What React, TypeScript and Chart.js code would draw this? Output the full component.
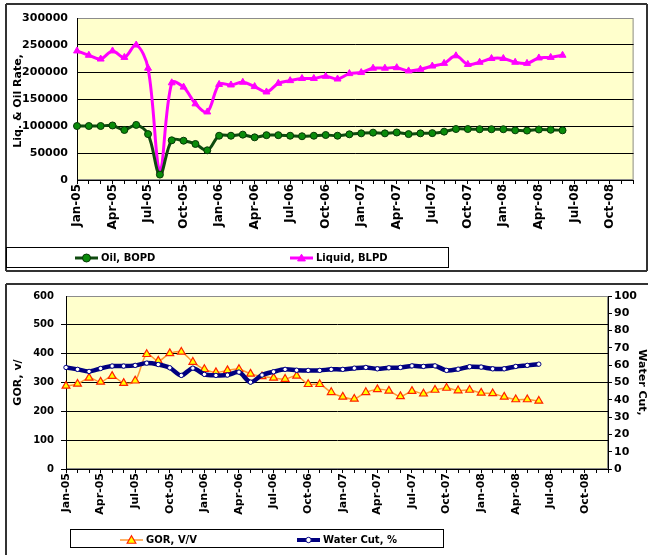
import React, { useEffect, useRef } from 'react';
import { Chart, registerables } from 'chart.js';

Chart.register(...registerables);

const FONT = '"DejaVu Sans", "Verdana", sans-serif';
Chart.defaults.font.family = FONT;
Chart.defaults.font.weight = 'bold';
Chart.defaults.color = '#000';

// ---------- DATA ----------
const months = [
  'Jan-05', 'Feb-05', 'Mar-05', 'Apr-05', 'May-05', 'Jun-05', 'Jul-05', 'Aug-05', 'Sep-05', 'Oct-05', 'Nov-05', 'Dec-05',
  'Jan-06', 'Feb-06', 'Mar-06', 'Apr-06', 'May-06', 'Jun-06', 'Jul-06', 'Aug-06', 'Sep-06', 'Oct-06', 'Nov-06', 'Dec-06',
  'Jan-07', 'Feb-07', 'Mar-07', 'Apr-07', 'May-07', 'Jun-07', 'Jul-07', 'Aug-07', 'Sep-07', 'Oct-07', 'Nov-07', 'Dec-07',
  'Jan-08', 'Feb-08', 'Mar-08', 'Apr-08', 'May-08', 'Jun-08', 'Jul-08', 'Aug-08', 'Sep-08', 'Oct-08', 'Nov-08', 'Dec-08',
];

const oilBOPD = [
  100000, 100000, 100000, 101000, 92600, 102000, 85000, 10000, 73500, 72800, 66700, 55000,
  82000, 82000, 84000, 79000, 83000, 83000, 82000, 81000, 82000, 83300, 82000, 84600,
  86400, 87700, 86400, 88000, 85000, 86400, 86800, 89500, 94400, 94400, 94000, 94000,
  94000, 92000, 91500, 93500, 93000, 92000,
];

const liquidBLPD = [
  239000, 231000, 224000, 239000, 227000, 250000, 207000, 17000, 180000, 172000, 141000, 126000,
  177000, 176000, 181000, 173000, 163000, 179000, 184000, 188000, 188000, 192000, 187000, 197000,
  199000, 207000, 207000, 208000, 202000, 205000, 211000, 216000, 230000, 214000, 218000, 225000,
  225000, 218000, 216000, 226000, 227000, 231000,
];

const gorVV = [
  288, 295, 316, 302, 322, 298, 306, 398, 375, 401, 406, 371,
  346, 335, 342, 346, 330, 321, 316, 312, 323, 294, 294, 266,
  250, 243, 266, 276, 271, 252, 270, 261, 274, 281, 272, 274,
  264, 262, 250, 241, 241, 236,
];

const waterCutPct = [
  58.7, 57.6, 56.4, 58.1, 59.5, 59.5, 59.9, 61.2, 60.4, 58.5, 54.1, 58.3,
  54.7, 54.1, 54.3, 56.0, 50.2, 54.3, 56.2, 57.6, 57.1, 57.0, 57.0, 57.6,
  57.6, 58.3, 58.7, 57.9, 58.5, 58.7, 59.6, 59.3, 59.6, 57.0, 57.7, 59.1,
  58.9, 57.9, 57.9, 59.3, 59.9, 60.6,
];

// ---------- PLUGIN: frame, plot background, boxed legend ----------
function drawMarker(ctx: CanvasRenderingContext2D, style: string, x: number, y: number, r: number) {
  ctx.beginPath();
  if (style === 'triangle') {
    for (let k = 0; k < 3; k++) {
      const ang = -Math.PI / 2 + (k * 2 * Math.PI) / 3;
      const px = x + r * Math.cos(ang);
      const py = y + r * Math.sin(ang) + r * 0.15;
      if (k === 0) ctx.moveTo(px, py);
      else ctx.lineTo(px, py);
    }
    ctx.closePath();
  } else {
    ctx.arc(x, y, r, 0, Math.PI * 2);
  }
  ctx.fill();
  ctx.stroke();
}

const framePlugin = {
  id: 'frame',
  beforeDraw(chart: any, _args: any, opts: any) {
    const { ctx, chartArea: a } = chart;
    ctx.save();
    ctx.fillStyle = '#ffffff';
    ctx.fillRect(0, 0, chart.width, chart.height);
    ctx.fillStyle = '#ffffcc';
    ctx.fillRect(a.left, a.top, a.right - a.left, a.bottom - a.top);
    ctx.strokeStyle = '#8c8c8c';
    ctx.lineWidth = 1;
    ctx.strokeRect(a.left + 0.5, a.top + 0.5, a.right - a.left - 1, a.bottom - a.top - 1);
    ctx.strokeStyle = '#333';
    ctx.lineWidth = 2;
    (opts.lines || []).forEach((l: number[]) => {
      ctx.beginPath();
      ctx.moveTo(l[0], l[1]);
      ctx.lineTo(l[2], l[3]);
      ctx.stroke();
    });
    const b = opts.box;
    if (b) {
      ctx.strokeStyle = '#000';
      ctx.lineWidth = 1;
      ctx.strokeRect(b.x + 0.5, b.y + 0.5, b.w, b.h);
    }
    ctx.restore();
  },
  afterDraw(chart: any, _args: any, opts: any) {
    const { ctx } = chart;
    const items = opts.items || [];
    ctx.save();
    items.forEach((it: any) => {
      const ds = chart.data.datasets[it.ds];
      const y = opts.itemY;
      ctx.strokeStyle = ds.borderColor;
      ctx.lineWidth = Math.min(ds.borderWidth, 4);
      ctx.beginPath();
      ctx.moveTo(it.x, y);
      ctx.lineTo(it.x + 23, y);
      ctx.stroke();
      ctx.fillStyle = ds.pointBackgroundColor;
      ctx.strokeStyle = ds.pointBorderColor;
      ctx.lineWidth = ds.pointBorderWidth || 1;
      drawMarker(ctx, ds.pointStyle, it.x + 11.5, y, ds.pointRadius + 0.5);
      ctx.fillStyle = '#000';
      ctx.font = 'bold 10px ' + FONT;
      ctx.textBaseline = 'middle';
      ctx.textAlign = 'left';
      ctx.fillText(ds.label, it.x + 26, y);
    });
    ctx.restore();
  },
};

const xTickCallback = (_v: any, i: number) => (i % 3 === 0 ? months[i] : '');

function topConfig(): any {
  return {
    type: 'line',
    data: {
      labels: months,
      datasets: [
        {
          label: 'Oil, BOPD',
          data: oilBOPD,
          borderColor: '#0f4a0f',
          borderWidth: 3,
          pointStyle: 'circle',
          pointRadius: 3.5,
          pointBackgroundColor: '#0a8c0a',
          pointBorderColor: '#063806',
          pointBorderWidth: 1,
          tension: 0.35,
          fill: false,
        },
        {
          label: 'Liquid, BLPD',
          data: liquidBLPD,
          borderColor: '#ff00ff',
          borderWidth: 3,
          pointStyle: 'triangle',
          pointRadius: 4,
          pointBackgroundColor: '#ff00ff',
          pointBorderColor: '#ff00ff',
          pointBorderWidth: 1,
          tension: 0.35,
          fill: false,
        },
      ],
    },
    options: {
      animation: false,
      responsive: false,
      events: [],
      layout: { padding: { left: 8, right: 9, top: 18, bottom: 35 } },
      plugins: {
        legend: { display: false },
        tooltip: { enabled: false },
        frame: {
          lines: [
            [6, 4, 647, 4],
            [6, 4, 6, 271],
            [647, 4, 647, 271],
            [6, 271, 647, 271],
          ],
          box: { x: 6, y: 247, w: 442, h: 20 },
          itemY: 258,
          items: [
            { ds: 0, x: 75 },
            { ds: 1, x: 290 },
          ],
        },
      },
      scales: {
        x: {
          type: 'category',
          offset: false,
          grid: { drawOnChartArea: false, drawTicks: true, tickLength: 4, color: '#000' },
          border: { color: '#000', width: 1 },
          ticks: {
            autoSkip: false,
            maxRotation: 90,
            minRotation: 90,
            padding: 0,
            font: { family: FONT, size: 12, weight: 'bold' },
            callback: xTickCallback,
          },
          afterFit: (s: any) => {
            s.height = 60;
          },
        },
        y: {
          min: 0,
          max: 300000,
          ticks: {
            stepSize: 50000,
            padding: 9,
            font: { family: FONT, size: 11, weight: 'bold' },
            callback: (v: any) => String(v),
          },
          grid: {
            drawTicks: false,
            color: (c: any) => (c.tick && c.tick.value === 300000 ? 'rgba(0,0,0,0)' : '#000'),
          },
          border: { color: '#000', width: 1 },
          title: {
            display: true,
            text: 'Liq. & Oil Rate, ',
            font: { family: FONT, size: 11, weight: 'bold' },
            padding: { top: 4, bottom: 0 },
          },
          afterFit: (s: any) => {
            s.width = 69;
          },
        },
      },
    },
    plugins: [framePlugin],
  };
}

function bottomConfig(): any {
  return {
    type: 'line',
    data: {
      labels: months,
      datasets: [
        {
          label: 'GOR, V/V',
          data: gorVV,
          yAxisID: 'y',
          order: 1,
          borderColor: '#ff9933',
          borderWidth: 1.5,
          pointStyle: 'triangle',
          pointRadius: 4.5,
          pointBackgroundColor: '#ffff00',
          pointBorderColor: '#ff2200',
          pointBorderWidth: 1.2,
          tension: 0.35,
          fill: false,
        },
        {
          label: 'Water Cut, %',
          data: waterCutPct,
          yAxisID: 'y1',
          order: 0,
          borderColor: '#000080',
          borderWidth: 4.5,
          pointStyle: 'circle',
          pointRadius: 2.2,
          pointBackgroundColor: '#ffffff',
          pointBorderColor: '#000080',
          pointBorderWidth: 1,
          tension: 0.3,
          fill: false,
        },
      ],
    },
    options: {
      animation: false,
      responsive: false,
      events: [],
      layout: { padding: { left: 8, right: 0, top: 18, bottom: 31 } },
      plugins: {
        legend: { display: false },
        tooltip: { enabled: false },
        frame: {
          lines: [
            [6, 6, 648, 6],
            [6, 6, 6, 277],
          ],
          box: { x: 70, y: 251, w: 373, h: 18 },
          itemY: 262,
          items: [
            { ds: 0, x: 120 },
            { ds: 1, x: 297 },
          ],
        },
      },
      scales: {
        x: {
          type: 'category',
          offset: false,
          grid: { drawOnChartArea: false, drawTicks: true, tickLength: 4, color: '#000' },
          border: { color: '#000', width: 1 },
          ticks: {
            autoSkip: false,
            maxRotation: 90,
            minRotation: 90,
            padding: 0,
            font: { family: FONT, size: 11, weight: 'bold' },
            callback: xTickCallback,
          },
          afterFit: (s: any) => {
            s.height = 55;
          },
        },
        y: {
          position: 'left',
          min: 0,
          max: 600,
          ticks: {
            stepSize: 100,
            padding: 7,
            font: { family: FONT, size: 10, weight: 'bold' },
            callback: (v: any) => String(v),
          },
          grid: {
            drawTicks: true,
            tickLength: 5,
            color: (c: any) => (c.tick && c.tick.value === 600 ? 'rgba(0,0,0,0)' : '#000'),
          },
          border: { color: '#000', width: 1 },
          title: {
            display: true,
            text: 'GOR, v/',
            font: { family: FONT, size: 11, weight: 'bold' },
            padding: { top: 4, bottom: 0 },
          },
          afterFit: (s: any) => {
            s.width = 58;
          },
        },
        y1: {
          position: 'right',
          min: 0,
          max: 100,
          ticks: {
            stepSize: 10,
            padding: 2,
            font: { family: FONT, size: 11, weight: 'bold' },
            callback: (v: any) => String(v),
          },
          grid: { drawOnChartArea: false, drawTicks: true, tickLength: 4, color: '#000' },
          border: { color: '#000', width: 1 },
          title: {
            display: true,
            text: 'Water Cut,',
            font: { family: FONT, size: 11, weight: 'bold' },
            padding: { top: 0, bottom: 0 },
          },
          afterFit: (s: any) => {
            s.width = 40;
          },
        },
      },
    },
    plugins: [framePlugin],
  };
}

export default function App() {
  const topRef = useRef<HTMLCanvasElement>(null);
  const botRef = useRef<HTMLCanvasElement>(null);

  useEffect(() => {
    const c1 = new Chart(topRef.current as HTMLCanvasElement, topConfig());
    const c2 = new Chart(botRef.current as HTMLCanvasElement, bottomConfig());
    return () => {
      c1.destroy();
      c2.destroy();
    };
  }, []);

  return (
    <div style={{ position: 'absolute', left: 0, top: 0, width: 648, height: 555, background: '#fff', overflow: 'hidden' }}>
      <canvas ref={topRef} width={648} height={275} style={{ position: 'absolute', left: 0, top: 0 }} />
      <canvas ref={botRef} width={648} height={277} style={{ position: 'absolute', left: 0, top: 278 }} />
    </div>
  );
}
